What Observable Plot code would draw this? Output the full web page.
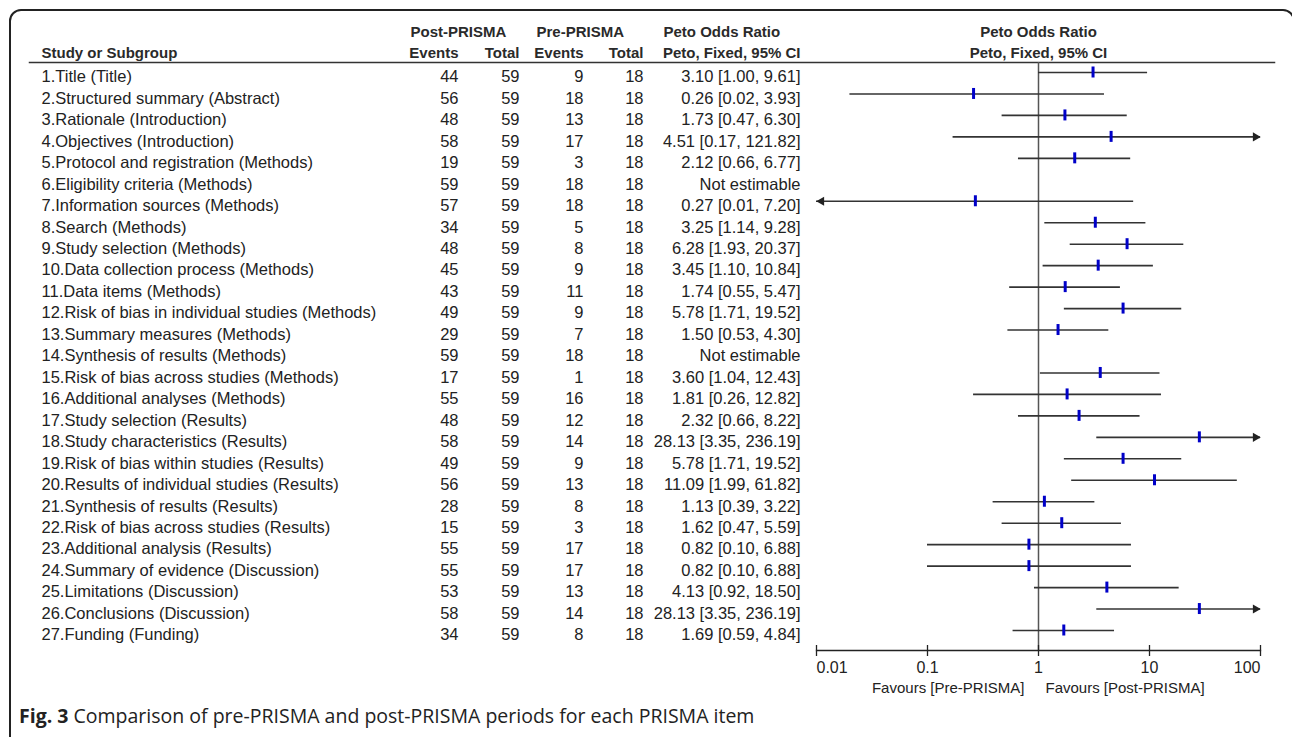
<!DOCTYPE html>
<html><head><meta charset="utf-8">
<script src="https://cdn.jsdelivr.net/npm/d3@7"></script>
<script src="https://cdn.jsdelivr.net/npm/@observablehq/plot@0.6"></script>
<style>
html,body{margin:0;padding:0;background:#fff;overflow:hidden;width:1292px;height:737px}
#frame{position:absolute;left:9px;top:9px;width:1286px;height:800px;border:2px solid #222;border-radius:12px;box-sizing:border-box}
#chart{position:absolute;left:0;top:0}
#caption{position:absolute;left:19px;top:702px;font-family:"Open Sans",sans-serif;font-size:19.5px;color:#222;white-space:nowrap}
#caption b{font-weight:700}
</style></head><body>
<div id="frame"></div>
<div id="chart"></div>
<div id="caption"><b>Fig. 3</b> Comparison of pre-PRISMA and post-PRISMA periods for each PRISMA item</div>
<script>
const studies = [
  "1.Title (Title)",
  "2.Structured summary (Abstract)",
  "3.Rationale (Introduction)",
  "4.Objectives (Introduction)",
  "5.Protocol and registration (Methods)",
  "6.Eligibility criteria (Methods)",
  "7.Information sources (Methods)",
  "8.Search (Methods)",
  "9.Study selection (Methods)",
  "10.Data collection process (Methods)",
  "11.Data items (Methods)",
  "12.Risk of bias in individual studies (Methods)",
  "13.Summary measures (Methods)",
  "14.Synthesis of results (Methods)",
  "15.Risk of bias across studies (Methods)",
  "16.Additional analyses (Methods)",
  "17.Study selection (Results)",
  "18.Study characteristics (Results)",
  "19.Risk of bias within studies (Results)",
  "20.Results of individual studies (Results)",
  "21.Synthesis of results (Results)",
  "22.Risk of bias across studies (Results)",
  "23.Additional analysis (Results)",
  "24.Summary of evidence (Discussion)",
  "25.Limitations (Discussion)",
  "26.Conclusions (Discussion)",
  "27.Funding (Funding)"
];
const postEvents = [44,56,48,58,19,59,57,34,48,45,43,49,29,59,17,55,48,58,49,56,28,15,55,55,53,58,34];
const postTotal  = [59,59,59,59,59,59,59,59,59,59,59,59,59,59,59,59,59,59,59,59,59,59,59,59,59,59,59];
const preEvents  = [9,18,13,17,3,18,18,5,8,9,11,9,7,18,1,16,12,14,9,13,8,3,17,17,13,14,8];
const preTotal   = [18,18,18,18,18,18,18,18,18,18,18,18,18,18,18,18,18,18,18,18,18,18,18,18,18,18,18];
const orEst  = [3.10,0.26,1.73,4.51,2.12,null,0.27,3.25,6.28,3.45,1.74,5.78,1.50,null,3.60,1.81,2.32,28.13,5.78,11.09,1.13,1.62,0.82,0.82,4.13,28.13,1.69];
const ciLow  = [1.00,0.02,0.47,0.17,0.66,null,0.01,1.14,1.93,1.10,0.55,1.71,0.53,null,1.04,0.26,0.66,3.35,1.71,1.99,0.39,0.47,0.10,0.10,0.92,3.35,0.59];
const ciHigh = [9.61,3.93,6.30,121.82,6.77,null,7.20,9.28,20.37,10.84,5.47,19.52,4.30,null,12.43,12.82,8.22,236.19,19.52,61.82,3.22,5.59,6.88,6.88,18.50,236.19,4.84];
const xTicks = [0.01, 0.1, 1, 10, 100];
const xTickLabels = ["0.01", "0.1", "1", "10", "100"];
const headLine1 = ["Post-PRISMA", "Pre-PRISMA", "Peto Odds Ratio"];
const headLine2 = ["Study or Subgroup", "Events", "Total", "Events", "Total", "Peto, Fixed, 95% CI"];
const rightHead = ["Peto Odds Ratio", "Peto, Fixed, 95% CI"];
const favours = ["Favours [Pre-PRISMA]", "Favours [Post-PRISMA]"];

const XMIN = 0.01, XMAX = 100;
const f2 = v => v.toFixed(2);
const rows = studies.map((s, i) => ({
  study: s,
  pe: postEvents[i], pt: postTotal[i], re: preEvents[i], rt: preTotal[i],
  or: orEst[i], lo: ciLow[i], hi: ciHigh[i],
  ci: orEst[i] == null ? "Not estimable" : `${f2(orEst[i])} [${f2(ciLow[i])}, ${f2(ciHigh[i])}]`
}));
const est = rows.filter(d => d.or != null).map(d => ({
  ...d,
  lo2: Math.max(d.lo, XMIN), hi2: Math.min(d.hi, XMAX),
  leftArrow: d.lo <= XMIN, rightArrow: d.hi > XMAX
}));
const ticks = xTicks.map((v, i) => ({v, label: xTickLabels[i]}));

// column layout (page pixels)
const col = {label: 41, pe: 458, pt: 519, re: 583, rt: 643, ci: 800};
const FS = 16.5, FONT = "'Liberation Sans', Arial, sans-serif", INK = "#222";
const line1 = -30.4, line2 = -9.4, rowDy = 4.5;

const cellText = (field, dx, anchor) => Plot.text(rows, {
  y: "study", text: field, frameAnchor: "left", dx, dy: rowDy, lineAnchor: "middle",
  textAnchor: anchor, fontSize: FS, fill: INK
});
const hdr = (items, dy) => items.map(([t, dx, anchor]) => Plot.text([t], {
  text: d => d, frameAnchor: "top-left", lineAnchor: "middle", dx, dy, textAnchor: anchor,
  fontSize: 15, fontWeight: 700, fill: "#2a2a2a"
}));

const chart = Plot.plot({
  width: 1292, height: 700,
  marginLeft: 0, marginRight: 0, marginTop: 62, marginBottom: 50,
  style: {fontFamily: FONT, color: INK, background: "transparent", overflow: "visible"},
  x: {type: "log", domain: [XMIN, XMAX], range: [816, 1260], axis: null},
  y: {type: "point", domain: studies, range: [72, 630], padding: 0, round: false, axis: null},
  marks: [
    Plot.frame({anchor: "top", insetLeft: 29, insetRight: 18, stroke: "#333", strokeWidth: 1.5}),
    Plot.frame({anchor: "bottom", insetLeft: 816, insetRight: 32, stroke: "#222", strokeWidth: 1.3}),
    ...hdr([[headLine1[0], 410, "start"], [headLine1[1], 536, "start"], [headLine1[2], 663, "start"]], line1),
    ...hdr([[headLine2[0], col.label, "start"], [headLine2[1], col.pe, "end"], [headLine2[2], col.pt, "end"],
            [headLine2[3], col.re, "end"], [headLine2[4], col.rt, "end"], [headLine2[5], col.ci, "end"]], line2),
    Plot.text([rightHead[0]], {x: () => 1, text: d => d, frameAnchor: "top", lineAnchor: "middle", dy: line1, fontSize: 15, fontWeight: 700, fill: "#2a2a2a"}),
    Plot.text([rightHead[1]], {x: () => 1, text: d => d, frameAnchor: "top", lineAnchor: "middle", dy: line2, fontSize: 15, fontWeight: 700, fill: "#2a2a2a"}),
    cellText("study", col.label, "start"),
    cellText("pe", col.pe, "end"),
    cellText("pt", col.pt, "end"),
    cellText("re", col.re, "end"),
    cellText("rt", col.rt, "end"),
    cellText("ci", col.ci, "end"),
    Plot.ruleX([1], {stroke: "#555", strokeWidth: 1.5}),
    Plot.ruleY(est, {y: "study", x1: "lo2", x2: "hi2", stroke: "#333", strokeWidth: 1.6}),
    Plot.dot(est.filter(d => d.rightArrow), {x: "hi2", y: "study", symbol: "triangle", rotate: 90, r: 3.4, dx: -5, fill: "#222", stroke: null}),
    Plot.dot(est.filter(d => d.leftArrow), {x: "lo2", y: "study", symbol: "triangle", rotate: -90, r: 3.4, dx: 5, fill: "#222", stroke: null}),
    Plot.ruleX(est, {x: "or", y1: "study", y2: "study", stroke: "#0000c8", strokeWidth: 3, insetTop: -5.5, insetBottom: -5.5}),
    Plot.axisX(xTicks, {anchor: "bottom", tickSize: 11, dy: -5, tickFormat: () => "", stroke: "#222", strokeWidth: 1.3}),
    Plot.text(ticks.slice(0, 1), {x: "v", text: "label", frameAnchor: "bottom", lineAnchor: "middle", dy: 17.6, textAnchor: "start", fontSize: 16, fill: INK}),
    Plot.text(ticks.slice(1, 4), {x: "v", text: "label", frameAnchor: "bottom", lineAnchor: "middle", dy: 17.6, textAnchor: "middle", fontSize: 16, fill: INK}),
    Plot.text(ticks.slice(4), {x: "v", text: "label", frameAnchor: "bottom", lineAnchor: "middle", dy: 17.6, textAnchor: "end", fontSize: 16, fill: INK}),
    Plot.text([favours[0]], {x: () => 1, text: d => d, frameAnchor: "bottom", lineAnchor: "middle", dx: -14, dy: 37.6, textAnchor: "end", fontSize: 15, fill: INK}),
    Plot.text([favours[1]], {x: () => 1, text: d => d, frameAnchor: "bottom", lineAnchor: "middle", dx: 7, dy: 37.6, textAnchor: "start", fontSize: 15, fill: INK})
  ]
});
document.getElementById("chart").append(chart);
</script>
</body></html>
